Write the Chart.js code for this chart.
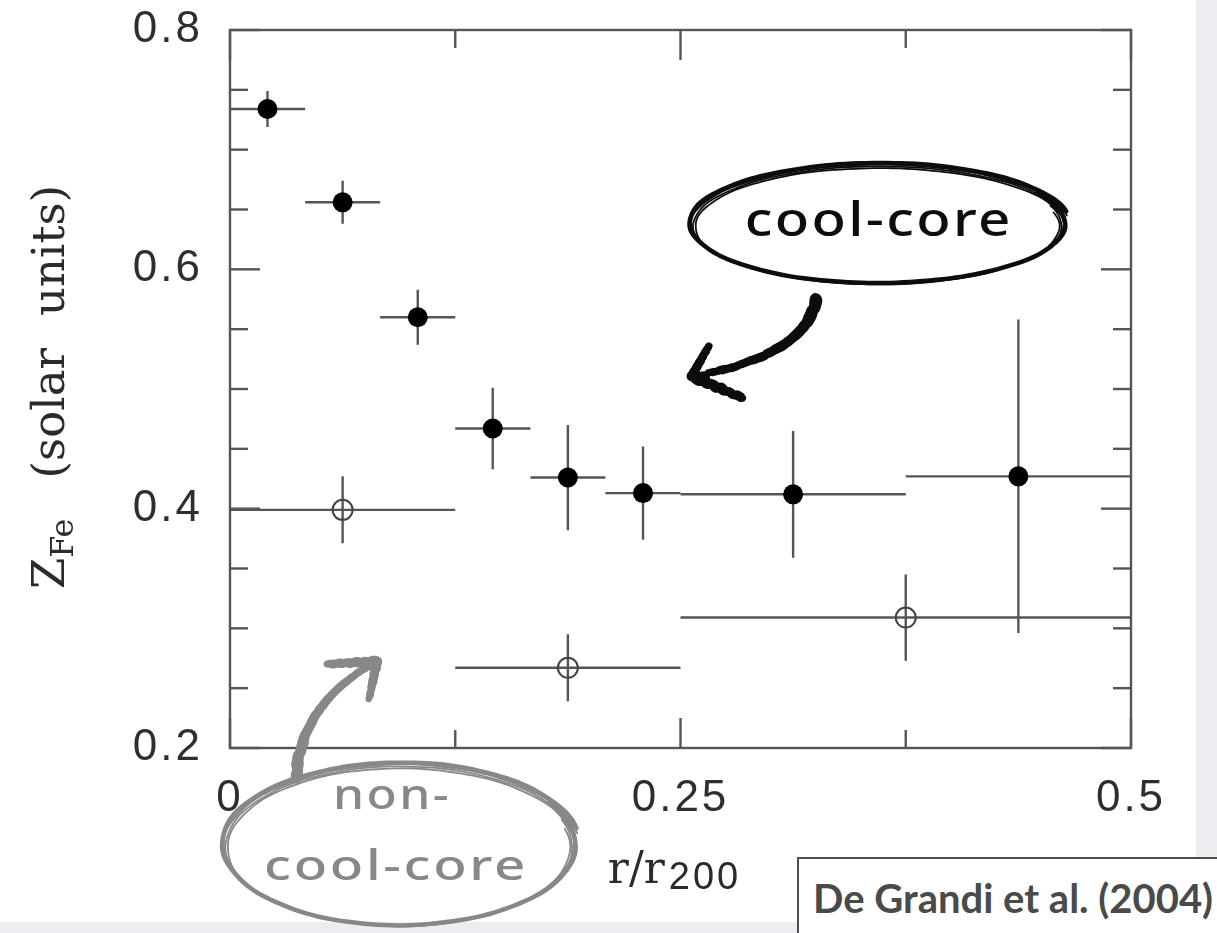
<!DOCTYPE html>
<html lang="en">
<head>
<meta charset="utf-8">
<title>Iron abundance radial profiles</title>
<script src="https://cdn.jsdelivr.net/npm/chart.js@4.4.1/dist/chart.umd.min.js"></script>
<style>
  html, body { margin: 0; padding: 0; width: 1217px; height: 933px; overflow: hidden; background: #ebedf1; }
  #sheet { position: absolute; left: 0; top: 0; width: 1196px; height: 922px; background: #ffffff; }
  #plot { position: absolute; left: 0; top: 0; width: 1217px; height: 933px; filter: blur(0.45px); }
  #cite { position: absolute; left: 797px; top: 857px; width: 440px; height: 90px; background: #ffffff;
          border-left: 2px solid #4d4d4d; border-top: 2px solid #4d4d4d; box-sizing: border-box;
          font-family: Lato, sans-serif; font-weight: 700; font-size: 34px; color: #4a4a4a;
          padding: 15px 0 0 14px; white-space: nowrap; line-height: normal; }
</style>
</head>
<body>
<div id="sheet"></div>
<canvas id="plot" width="1217" height="933"></canvas>
<div id="cite">De Grandi et al. (2004)</div>
<script>
// Cool-core clusters: bin centres, bin edges, iron abundance and 1-sigma errors
const ccR      = [0.0208, 0.0625, 0.1042, 0.1458, 0.1875, 0.2292, 0.3125, 0.4375];
const ccRLow   = [0.0, 0.0417, 0.0833, 0.125, 0.1667, 0.2083, 0.25, 0.375];
const ccRHigh  = [0.0417, 0.0833, 0.125, 0.1667, 0.2083, 0.25, 0.375, 0.5];
const ccZ      = [0.734, 0.656, 0.560, 0.467, 0.426, 0.413, 0.412, 0.427];
const ccZErr   = [0.015, 0.018, 0.023, 0.034, 0.044, 0.039, 0.053, 0.131];

// Non-cool-core clusters
const nccR     = [0.0625, 0.1875, 0.375];
const nccRLow  = [0.0, 0.125, 0.25];
const nccRHigh = [0.125, 0.25, 0.5];
const nccZ     = [0.399, 0.267, 0.309];
const nccZErr  = [0.028, 0.028, 0.036];

// Axis ticks
const xMajorTicks = [0, 0.25, 0.5];
const xMinorTicks = [0.125, 0.375];
const xTickLabels = ['0', '0.25', '0.5'];
const yMajorTicks = [0.2, 0.4, 0.6, 0.8];
const yMinorTicks = [0.25, 0.3, 0.35, 0.45, 0.5, 0.55, 0.65, 0.7, 0.75];
const yTickLabels = ['0.2', '0.4', '0.6', '0.8'];

const near = (a, b) => Math.abs(a - b) < 1e-6;
const labelFor = (v, majors, labels) => {
  const i = majors.findIndex(m => near(m, v));
  return i < 0 ? '' : labels[i];
};

const errorSpecs = [
  { low: ccRLow, high: ccRHigh, err: ccZErr },
  { low: nccRLow, high: nccRHigh, err: nccZErr }
];

// Box around the plot with inward-pointing major/minor ticks on all four sides
const framePlugin = {
  id: 'frameTicks',
  beforeDatasetsDraw(chart) {
    const { ctx, chartArea: a, scales: { x, y } } = chart;
    ctx.save();
    ctx.strokeStyle = '#555555';
    ctx.lineWidth = 2.4;
    ctx.strokeRect(a.left, a.top, a.right - a.left, a.bottom - a.top);
    const seg = (x1, y1, x2, y2) => { ctx.beginPath(); ctx.moveTo(x1, y1); ctx.lineTo(x2, y2); ctx.stroke(); };
    const yTick = (v, len) => { const p = y.getPixelForValue(v); seg(a.left, p, a.left + len, p); seg(a.right, p, a.right - len, p); };
    const xTick = (v, len) => { const p = x.getPixelForValue(v); seg(p, a.bottom, p, a.bottom - len); seg(p, a.top, p, a.top + len); };
    yMajorTicks.forEach(v => yTick(v, 30));
    yMinorTicks.forEach(v => yTick(v, 18));
    xMajorTicks.forEach(v => xTick(v, 30));
    xMinorTicks.forEach(v => xTick(v, 18));
    ctx.restore();
  }
};

// Horizontal bars span each radial bin, vertical bars the abundance error
const errorBarPlugin = {
  id: 'errorBars',
  beforeDatasetsDraw(chart) {
    const { ctx, scales: { x, y } } = chart;
    ctx.save();
    ctx.strokeStyle = '#555555';
    ctx.lineWidth = 2.4;
    chart.data.datasets.forEach((ds, di) => {
      const spec = errorSpecs[di];
      ds.data.forEach((pt, i) => {
        const px = x.getPixelForValue(pt.x);
        const py = y.getPixelForValue(pt.y);
        ctx.beginPath();
        ctx.moveTo(x.getPixelForValue(spec.low[i]), py);
        ctx.lineTo(x.getPixelForValue(spec.high[i]), py);
        ctx.moveTo(px, y.getPixelForValue(pt.y + spec.err[i]));
        ctx.lineTo(px, y.getPixelForValue(pt.y - spec.err[i]));
        ctx.stroke();
      });
    });
    ctx.restore();
  }
};

// Wide tick-label lettering
const spacingPlugin = {
  id: 'labelSpacing',
  beforeDraw(chart) { chart.ctx.letterSpacing = '3px'; },
  afterDraw(chart) { chart.ctx.letterSpacing = '0px'; }
};

// Deterministic wobble for the marker-pen strokes
const wobble = (t, k) => Math.sin(t * 12.9898 + k * 78.233) * 0.5 + Math.sin(t * 4.1 + k) * 0.5;

function sketchEllipse(ctx, cx, cy, rx, ry, color, width) {
  ctx.save();
  ctx.strokeStyle = color;
  ctx.lineCap = 'round';
  ctx.lineJoin = 'round';
  for (let k = 0; k < 4; k++) {
    ctx.lineWidth = width * (k === 0 ? 1 : 0.4);
    ctx.beginPath();
    const start = -0.55 + 0.1 * k;
    const span = Math.PI * 2 + 0.35 - 0.05 * k;
    const n = 180;
    for (let s = 0; s <= n; s++) {
      const t = start + span * s / n;
      const grow = 1 + 0.03 * (s / n) - 0.01 * k;
      const wob = 1 + 0.004 * wobble(t, k);
      const px = cx + rx * grow * wob * Math.cos(t);
      const py = cy + ry * grow * wob * Math.sin(t) + (k - 1.5) * 1.1;
      if (s === 0) ctx.moveTo(px, py); else ctx.lineTo(px, py);
    }
    ctx.stroke();
  }
  ctx.restore();
}

// Rough brush stroke along a quadratic curve, tapering towards its end
function brushCurve(ctx, p0, c, p1, w0, w1, color) {
  ctx.save();
  ctx.strokeStyle = color;
  ctx.lineCap = 'round';
  const n = 40;
  const at = t => [
    (1 - t) * (1 - t) * p0[0] + 2 * (1 - t) * t * c[0] + t * t * p1[0],
    (1 - t) * (1 - t) * p0[1] + 2 * (1 - t) * t * c[1] + t * t * p1[1]
  ];
  for (let s = 0; s < n; s++) {
    const t0 = s / n, t1 = (s + 1) / n;
    const a = at(t0), b = at(t1);
    const w = w0 + (w1 - w0) * t0;
    for (let k = 0; k < 3; k++) {
      const j = wobble(t0 * 9, k) * w * 0.18;
      ctx.lineWidth = w * (k === 0 ? 1 : 0.55);
      ctx.beginPath();
      ctx.moveTo(a[0] + j, a[1] - j);
      ctx.lineTo(b[0] + j, b[1] - j);
      ctx.stroke();
    }
  }
  ctx.restore();
}

function brushLine(ctx, p0, p1, w0, w1, color) {
  brushCurve(ctx, p0, [(p0[0] + p1[0]) / 2, (p0[1] + p1[1]) / 2], p1, w0, w1, color);
}

function fitFont(ctx, text, weight, family, target) {
  ctx.font = weight + ' 100px ' + family;
  const w = ctx.measureText(text).width;
  return weight + ' ' + (100 * target / w).toFixed(1) + 'px ' + family;
}

// Centred marker lettering, stretched sideways to span a given width
function markerText(ctx, text, font, cx, baseY, target) {
  ctx.save();
  ctx.letterSpacing = '2px';
  ctx.font = font;
  ctx.textAlign = 'left';
  const w = ctx.measureText(text).width;
  ctx.translate(cx - target / 2, baseY);
  ctx.scale(target / w, 1);
  ctx.fillText(text, 0, 0);
  ctx.restore();
}

// Axis titles and the hand-drawn cluster-type notes
const notesPlugin = {
  id: 'notes',
  afterDraw(chart) {
    const { ctx, chartArea: a, scales: { x, y } } = chart;
    ctx.save();
    ctx.letterSpacing = '0px';
    ctx.textBaseline = 'alphabetic';

    // x-axis title: r / r_200
    const xMid = (a.left + a.right) / 2 - 6;
    ctx.fillStyle = '#2b2b2b';
    ctx.font = '44px "DejaVu Serif"';
    const w1 = ctx.measureText('r/r').width;
    ctx.font = '38px "Liberation Sans"';
    ctx.letterSpacing = '3px';
    const w2 = ctx.measureText('200').width;
    const x0 = xMid - (w1 + 4 + w2) / 2;
    ctx.letterSpacing = '0px';
    ctx.font = '44px "DejaVu Serif"';
    ctx.textAlign = 'left';
    ctx.fillText('r/r', x0, a.bottom + 135);
    ctx.font = '38px "Liberation Sans"';
    ctx.letterSpacing = '3px';
    ctx.fillText('200', x0 + w1 + 4, a.bottom + 141);
    ctx.letterSpacing = '0px';

    // y-axis title: Z_Fe (solar units), rotated
    const yMid = (a.top + a.bottom) / 2;
    ctx.save();
    ctx.translate(64, yMid - 2);
    ctx.rotate(-Math.PI / 2);
    const big = '45px "DejaVu Serif"', sub = '32px "DejaVu Serif"';
    ctx.font = big; const wZ = ctx.measureText('Z').width;
    ctx.font = sub; const wFe = ctx.measureText('Fe').width;
    ctx.font = big;
    const wS = ctx.measureText('(solar').width, wU = ctx.measureText('units)').width;
    const gapA = 40, gapB = 32;
    const total = wZ + wFe + gapA + wS + gapB + wU;
    let u = -total / 2;
    ctx.fillText('Z', u, 0); u += wZ;
    ctx.font = sub; ctx.fillText('Fe', u, 9); u += wFe + gapA;
    ctx.font = big; ctx.fillText('(solar', u, 0); u += wS + gapB;
    ctx.fillText('units)', u, 0);
    ctx.restore();

    // cool-core note
    const ink = '#0d0d0d';
    const cc = [x.getPixelForValue(0.36), y.getPixelForValue(0.637)];
    sketchEllipse(ctx, cc[0], cc[1], 186, 59, ink, 4.5);
    ctx.fillStyle = ink;
    markerText(ctx, 'cool-core', '500 48px "Noto Sans"', cc[0], cc[1] + 11, 268);
    brushCurve(ctx, [cc[0] - 63, cc[1] + 74], [cc[0] - 70, cc[1] + 128], [cc[0] - 182, cc[1] + 151], 12, 7, ink);
    brushLine(ctx, [cc[0] - 170, cc[1] + 121], [cc[0] - 187, cc[1] + 151], 7, 9, ink);
    brushLine(ctx, [cc[0] - 187, cc[1] + 151], [cc[0] - 136, cc[1] + 173], 10, 7, ink);

    // non-cool-core note
    const nc = [x.getPixelForValue(0.0944), y.getPixelForValue(0.118)];
    const gray = '#888888';
    sketchEllipse(ctx, nc[0], nc[1], 175, 80, gray, 4.5);
    ctx.fillStyle = gray;
    markerText(ctx, 'non-', '500 41px "Noto Sans"', nc[0] - 8, nc[1] - 37, 118);
    markerText(ctx, 'cool-core', '500 41px "Noto Sans"', nc[0] - 4, nc[1] + 34, 264);
    brushCurve(ctx, [nc[0] - 104, nc[1] - 68], [nc[0] - 100, nc[1] - 141], [nc[0] - 28, nc[1] - 182], 11, 7, gray);
    brushLine(ctx, [nc[0] - 73, nc[1] - 182], [nc[0] - 23, nc[1] - 185], 7, 9, gray);
    brushLine(ctx, [nc[0] - 23, nc[1] - 185], [nc[0] - 31, nc[1] - 147], 9, 6, gray);

    ctx.restore();
  }
};

new Chart(document.getElementById('plot'), {
  type: 'scatter',
  data: {
    datasets: [
      {
        label: 'cool-core',
        data: ccR.map((r, i) => ({ x: r, y: ccZ[i] })),
        pointRadius: 10,
        pointHoverRadius: 10,
        backgroundColor: '#000000',
        borderColor: '#000000',
        borderWidth: 0
      },
      {
        label: 'non-cool-core',
        data: nccR.map((r, i) => ({ x: r, y: nccZ[i] })),
        pointRadius: 10,
        pointHoverRadius: 10,
        backgroundColor: 'rgba(0,0,0,0)',
        borderColor: '#444444',
        borderWidth: 2
      }
    ]
  },
  options: {
    responsive: false,
    animation: false,
    events: [],
    layout: { padding: { left: 0, right: 86, top: 30, bottom: 0 } },
    plugins: { legend: { display: false }, tooltip: { enabled: false } },
    scales: {
      x: {
        type: 'linear', min: 0, max: 0.5,
        afterFit: s => { s.height = 185; s.paddingLeft = 0; s.paddingRight = 0; },
        grid: { display: false, drawTicks: false },
        border: { display: false },
        ticks: {
          stepSize: 0.25, autoSkip: false, maxRotation: 0, minRotation: 0, padding: 24,
          color: '#2e2e2e', font: { family: '"Liberation Sans"', size: 44 },
          callback: v => labelFor(v, xMajorTicks, xTickLabels)
        }
      },
      y: {
        type: 'linear', min: 0.2, max: 0.8,
        afterFit: s => { s.width = 230; s.paddingTop = 0; s.paddingBottom = 0; },
        grid: { display: false, drawTicks: false },
        border: { display: false },
        ticks: {
          stepSize: 0.2, autoSkip: false, padding: 27,
          color: '#2e2e2e', font: { family: '"Liberation Sans"', size: 44 },
          callback: v => labelFor(v, yMajorTicks, yTickLabels)
        }
      }
    }
  },
  plugins: [spacingPlugin, framePlugin, errorBarPlugin, notesPlugin]
});

// Size the citation so it spans its box
(function () {
  const el = document.getElementById('cite');
  const c = document.createElement('canvas').getContext('2d');
  c.font = fitFont(c, el.textContent, '700', 'Lato', 400);
  const size = parseFloat(c.font.match(/([\d.]+)px/)[1]);
  el.style.fontSize = size + 'px';
})();
</script>
</body>
</html>
